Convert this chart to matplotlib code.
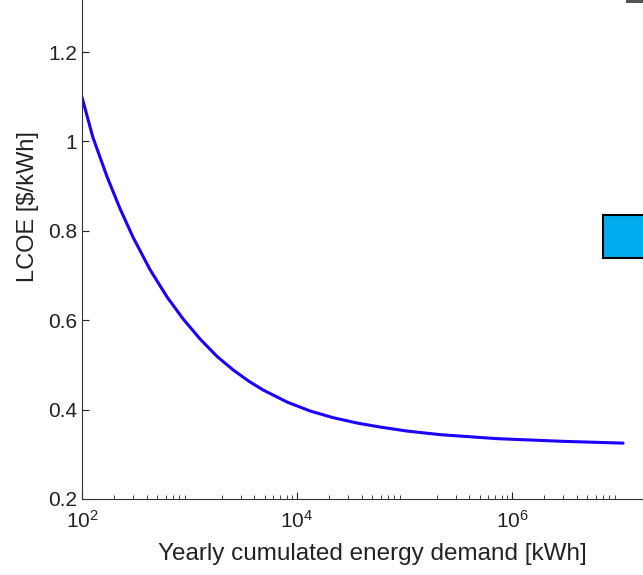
import matplotlib
matplotlib.use("Agg")
import matplotlib.pyplot as plt
from matplotlib.patches import Rectangle
from matplotlib.ticker import FuncFormatter, LogLocator
import numpy as np

# curve (log10 of demand, LCOE)
log_demand = [2.0, 2.1, 2.233, 2.353, 2.474, 2.633, 2.791, 2.940, 3.098,
              3.256, 3.405, 3.555, 3.684, 3.907, 4.121, 4.335, 4.558, 4.772,
              5.023, 5.330, 5.860, 6.474, 7.033]
lcoe = [1.099, 1.010, 0.921, 0.850, 0.786, 0.713, 0.652, 0.603, 0.558,
        0.519, 0.489, 0.463, 0.444, 0.417, 0.397, 0.382, 0.370, 0.361,
        0.352, 0.344, 0.335, 0.329, 0.325]
xticks = [1e2, 1e4, 1e6]
yticks = [0.2, 0.4, 0.6, 0.8, 1.0, 1.2]

plt.rcParams['font.family'] = ['Liberation Sans', 'DejaVu Sans']

fig = plt.figure(figsize=(6.43, 5.75), dpi=100)
W, H = 643, 575
# axes is larger than the figure: its top and right side are cut off
x0, y0, x1 = 82, 499, 662
pxdec = 107.5
pxunit = 447
ax_w = x1 - x0
ax_h = 1.2 * pxunit
ax = fig.add_axes([x0 / W, (H - y0) / H, ax_w / W, ax_h / H])

demand = 10 ** np.array(log_demand)
ax.plot(demand, lcoe, color='#1a00ff', lw=2.2, solid_capstyle='round')

ax.set_xscale('log')
ax.set_xlim(1e2, 10 ** (2 + ax_w / pxdec))
ax.set_ylim(0.2, 1.4)
ax.set_xticks(xticks)
ax.xaxis.set_minor_locator(LogLocator(base=10, subs=np.arange(2, 10), numticks=20))
ax.set_yticks(yticks)
ax.yaxis.set_major_formatter(FuncFormatter(lambda v, p: '%g' % v))

ax.tick_params(which='both', direction='in', top=False, right=False,
               labelsize=15, colors='#222222')
ax.tick_params(which='major', length=5, width=0.8)
ax.tick_params(which='minor', length=3, width=0.6)
ax.tick_params(axis='x', pad=8)
for s in ax.spines.values():
    s.set_color('#333333')
    s.set_linewidth(0.8)
ax.spines['right'].set_visible(False)

ax.set_xlabel('Yearly cumulated energy demand [kWh]', fontsize=17.5,
              color='#222222')
ax.set_ylabel('LCOE [$/kWh]', fontsize=17, color='#222222')
ax.xaxis.set_label_coords((372 - x0) / ax_w, (y0 - 543) / ax_h)
ax.yaxis.set_label_coords((39 - x0) / ax_w, (y0 - 207) / ax_h)

# pieces of a neighbouring panel that show at the right edge
fig.patches.append(Rectangle((603 / W, (H - 258) / H), 50 / W, 43 / H,
                             transform=fig.transFigure, facecolor='#00aeef',
                             edgecolor='black', lw=1.5))
fig.patches.append(Rectangle((626 / W, (H - 3) / H), 30 / W, 5 / H,
                             transform=fig.transFigure, facecolor='#555555',
                             edgecolor='none'))

fig.savefig('out.png', dpi=100)
